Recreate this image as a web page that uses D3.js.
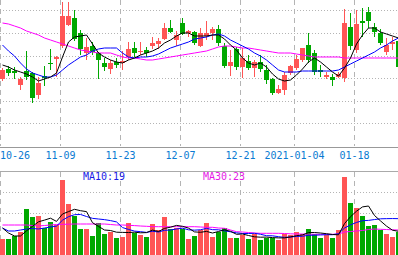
<!DOCTYPE html>
<html>
<head>
<meta charset="utf-8">
<script src="https://cdn.jsdelivr.net/npm/d3@7"></script>
<style>
html, body { margin: 0; padding: 0; background: #fff; overflow: hidden; }
</style>
</head>
<body>
<div id="chart"></div>
<script>
// trading days shown
const dates = [
  "2020-10-26","2020-10-27","2020-10-28","2020-10-29","2020-10-30",
  "2020-11-02","2020-11-03","2020-11-04","2020-11-05","2020-11-06",
  "2020-11-09","2020-11-10","2020-11-11","2020-11-12","2020-11-13",
  "2020-11-16","2020-11-17","2020-11-18","2020-11-19","2020-11-20",
  "2020-11-23","2020-11-24","2020-11-25","2020-11-26","2020-11-27",
  "2020-11-30","2020-12-01","2020-12-02","2020-12-03","2020-12-04",
  "2020-12-07","2020-12-08","2020-12-09","2020-12-10","2020-12-11",
  "2020-12-14","2020-12-15","2020-12-16","2020-12-17","2020-12-18",
  "2020-12-21","2020-12-22","2020-12-23","2020-12-24","2020-12-25",
  "2020-12-28","2020-12-29","2020-12-30","2020-12-31",
  "2021-01-04","2021-01-05","2021-01-06","2021-01-07","2021-01-08",
  "2021-01-11","2021-01-12","2021-01-13","2021-01-14","2021-01-15",
  "2021-01-18","2021-01-19","2021-01-20","2021-01-21","2021-01-22",
  "2021-01-25","2021-01-26","2021-01-27"
];

const open  = [3.44,3.64,3.60,3.32,3.60,3.56,3.12,3.50,3.76,3.84, 4.10,4.52,4.66,4.36,3.96,4.10,3.96,3.76,3.64,3.78,
               3.76,3.88,4.06,3.98,4.02,4.10,4.14,4.24,4.46,4.22, 4.56,4.36,4.38,4.10,4.30,4.36,4.44,4.10,3.70,4.04,
               3.68,3.80,3.66,3.78,3.62,3.44,3.16,3.22,3.56,3.66, 3.82,4.12,3.96,3.62,3.48,3.48,3.48,3.46,4.48,4.02,
               4.60,4.78,4.48,4.36,3.98,4.14,4.20];
const high  = [3.66,3.70,3.68,3.48,4.00,3.58,3.48,3.70,4.04,3.90, 4.98,4.98,4.82,4.42,4.26,4.18,3.98,3.86,3.82,3.86,
               4.00,4.18,4.18,4.18,4.08,4.28,4.26,4.56,4.62,4.40, 4.66,4.42,4.40,4.46,4.60,4.48,4.52,4.16,4.02,4.08,
               4.06,3.92,3.82,3.92,3.72,3.46,3.32,3.58,3.72,3.92, 4.06,4.36,4.02,3.72,3.58,3.54,3.58,4.84,4.76,4.82,
               4.86,4.88,4.56,4.44,4.26,4.28,4.26];
const low   = [3.40,3.50,3.44,3.22,3.42,2.96,3.04,3.30,3.62,3.48, 4.06,4.50,4.20,3.92,3.82,3.92,3.44,3.60,3.54,3.66,
               3.62,3.82,3.88,3.92,3.88,4.04,4.04,4.22,4.36,4.10, 4.32,4.28,4.12,4.08,4.22,4.22,4.10,3.66,3.50,3.62,
               3.46,3.62,3.48,3.58,3.34,3.12,3.14,3.12,3.52,3.62, 3.78,3.76,3.52,3.48,3.44,3.30,3.46,3.38,4.02,3.96,
               4.28,4.46,4.28,4.12,3.92,4.02,3.62];
const close = [3.62,3.56,3.56,3.44,3.48,3.06,3.36,3.46,3.74,3.88, 4.70,4.70,4.24,4.04,4.08,3.98,3.82,3.68,3.76,3.72,
               3.80,4.04,3.96,4.00,3.96,4.16,4.20,4.46,4.38,4.32, 4.34,4.40,4.16,4.36,4.36,4.44,4.16,3.70,3.78,3.68,
               3.86,3.66,3.78,3.64,3.42,3.16,3.24,3.52,3.70,3.84, 4.06,3.82,3.58,3.58,3.52,3.42,3.54,4.56,4.10,4.54,
               4.56,4.60,4.38,4.16,4.12,4.18,3.68];

const ma5  = [3.72,3.68,3.62,3.58,3.54,3.48,3.40,3.44,3.48,3.56, 3.88,4.18,4.28,4.30,4.32,4.14,3.96,3.88,3.82,3.78,
              3.76,3.82,3.86,3.92,3.96,4.00,4.06,4.16,4.22,4.30, 4.36,4.36,4.30,4.30,4.30,4.32,4.32,4.24,4.12,4.02,
              3.86,3.76,3.72,3.76,3.68,3.54,3.44,3.40,3.42,3.52, 3.64,3.78,3.86,3.78,3.68,3.58,3.50,3.66,3.86,4.14,
              4.32,4.46,4.46,4.38,4.34,4.30,4.26];
const ma10 = [4.12,4.00,3.90,3.76,3.64,3.56,3.52,3.48,3.48,3.52, 3.62,3.72,3.80,3.88,3.92,4.00,4.04,4.06,4.06,4.06,
              3.96,3.88,3.86,3.88,3.88,3.90,3.94,4.00,4.06,4.10, 4.14,4.18,4.24,4.26,4.28,4.32,4.34,4.30,4.22,4.16,
              4.10,4.04,3.96,3.90,3.82,3.72,3.62,3.58,3.58,3.58, 3.60,3.60,3.60,3.60,3.60,3.60,3.62,3.68,3.74,3.80,
              3.86,3.92,3.98,4.06,4.12,4.20,4.26];
const ma30 = [4.56,4.54,4.50,4.46,4.40,4.36,4.32,4.26,4.22,4.18, 4.14,4.10,4.06,4.02,4.00,3.98,3.96,3.96,3.96,3.92,
              3.88,3.86,3.86,3.84,3.82,3.82,3.84,3.86,3.88,3.90, 3.92,3.94,3.96,3.98,4.00,4.04,4.08,4.10,4.10,4.08,
              4.06,4.06,4.04,4.02,4.00,3.98,3.96,3.96,3.96,3.94, 3.92,3.90,3.88,3.88,3.88,3.88,3.88,3.86,3.86,3.86,
              3.86,3.86,3.86,3.86,3.86,3.86,3.86];

const volume = [32,32,38,47,93,76,78,55,66,61, 150,102,78,52,52,39,65,42,47,35,
                37,64,45,41,37,62,50,76,53,55, 53,32,38,49,64,37,47,55,34,34,
                40,32,42,30,35,35,29,42,40,47, 43,52,43,35,40,35,49,155,104,95,
                78,58,60,50,43,37,47];
const volMa5  = [54,44,38,38,48.4,57.2,66.4,69.8,73.6,67.2, 82,86.8,91.4,88.6,86.8,64.6,57.2,50,49,45.6,
                 45.2,45,45.6,44.4,44.8,49.8,47,53.2,55.6,59.2, 57.4,53.8,46.2,45.4,47.2,44,47,50.4,47.4,41.4,
                 42,39,36.4,35.6,35.8,34.8,34.2,34.2,36.2,38.6, 40.2,44.8,45,44,42.6,41,40.4,62.8,76.6,87.6,
                 96.2,98,79,68.2,57.8,49.6,47.4];
const volMa10 = [54,48,48,50,52,53,52,54,56,57.8, 69.6,76.6,80.6,81.1,77,73.3,72,70.7,68.8,66.2,
                 54.9,51.1,47.8,46.7,45.2,47.5,46,49.4,50,52, 53.6,50.4,49.7,50.5,53.2,50.7,50.4,48.3,46.4,44.3,
                 43,43,43.4,41.5,38.6,38.4,36.6,35.3,35.9,37.2, 37.5,39.5,39.6,40.1,40.6,40.6,42.6,53.9,60.3,65.1,
                 68.6,69.2,70.9,72.4,72.7,72.9,72.7];
const volMa30 = [60,60,60,60,60,59,58,59,60,61, 61.4,61.6,62,62,62,62,62,62,61,60,
                 60,59.4,58.8,58,57.4,56.8,56.6,56.6,56.6,56.6, 56.6,56.6,56.6,56,55.4,55.4,54,53.4,50,46.6,
                 46,45,44,43.4,43.4,43.4,43.4,43,42.4,42, 42,41.6,41.4,41.4,41.4,41.4,42,46,47,48,
                 49,51,52,51.4,51,50.4,50];

const tickDates  = ["2020-10-26","2020-11-09","2020-11-23","2020-12-07","2020-12-21","2021-01-04","2021-01-18"];
const tickLabels = ["10-26","11-09","11-23","12-07","12-21","2021-01-04","01-18"];
const priceGrid = [2.55, 3.00, 3.45, 3.90, 4.35, 4.80];
const volGrid = [84, 126];

const width = 398, height = 255;
const UP = '#ff5555', DOWN = '#00a800';
const GRID = '#b4b4b4';

const svg = d3.select('#chart').append('svg')
  .attr('width', width)
  .attr('height', height)
  .style('display', 'block');

const x = d3.scaleBand().domain(dates).range([0, dates.length * 6 - 1]).paddingInner(1 / 6);
const cx = d => x(d) + x.bandwidth() / 2;
const y = d3.scaleLinear().domain([2.10, 5.02]).range([146, 0]);
const yv = d3.scaleLinear().domain([0, 168]).range([255, 171]);

const candles = dates.map((d, i) => ({
  date: d, o: open[i], h: high[i], l: low[i], c: close[i], v: volume[i]
}));
const col = d => d.c >= d.o ? UP : DOWN;

// grid
const grid = svg.append('g');
grid.selectAll('.hp').data(priceGrid).join('line')
  .attr('x1', 0).attr('x2', width)
  .attr('y1', d => Math.floor(y(d)) + 0.5).attr('y2', d => Math.floor(y(d)) + 0.5)
  .attr('stroke', GRID).attr('stroke-dasharray', '1,2');
grid.selectAll('.hv').data(volGrid).join('line')
  .attr('x1', 0).attr('x2', width)
  .attr('y1', d => Math.floor(yv(d)) + 0.5).attr('y2', d => Math.floor(yv(d)) + 0.5)
  .attr('stroke', GRID).attr('stroke-dasharray', '1,2');
tickDates.forEach(d => {
  const gx = x(d) + 0.5;
  grid.append('line').attr('x1', gx).attr('x2', gx).attr('y1', 0).attr('y2', 146)
    .attr('stroke', GRID).attr('stroke-dasharray', '5,4');
  grid.append('line').attr('x1', gx).attr('x2', gx).attr('y1', 172).attr('y2', 255)
    .attr('stroke', GRID).attr('stroke-dasharray', '5,4');
});

// panel borders
svg.append('line').attr('x1', 0).attr('x2', width).attr('y1', 147.5).attr('y2', 147.5)
  .attr('stroke', '#999');
svg.append('line').attr('x1', 0).attr('x2', width).attr('y1', 171.5).attr('y2', 171.5)
  .attr('stroke', '#aaa');

// candles
const cg = svg.append('g').attr('shape-rendering', 'crispEdges');
cg.selectAll('line').data(candles).join('line')
  .attr('x1', d => cx(d.date)).attr('x2', d => cx(d.date))
  .attr('y1', d => y(d.h)).attr('y2', d => y(d.l))
  .attr('stroke', col);
cg.selectAll('rect').data(candles).join('rect')
  .attr('x', d => x(d.date))
  .attr('width', x.bandwidth())
  .attr('y', d => Math.round(y(Math.max(d.o, d.c))))
  .attr('height', d => Math.max(1, Math.round(Math.abs(y(d.o) - y(d.c)))))
  .attr('fill', col);

// volume bars
svg.append('g').attr('shape-rendering', 'crispEdges')
  .selectAll('rect').data(candles).join('rect')
  .attr('x', d => x(d.date))
  .attr('width', x.bandwidth())
  .attr('y', d => Math.round(yv(d.v)))
  .attr('height', d => 255 - Math.round(yv(d.v)))
  .attr('fill', col);

// moving averages
function maLine(values, scale, color) {
  const line = d3.line().x((v, i) => cx(dates[i])).y(v => scale(v));
  svg.append('path')
    .attr('d', line(values))
    .attr('fill', 'none')
    .attr('stroke', color)
    .attr('stroke-width', 1);
}
maLine(ma30, y, '#ff00ff');
maLine(ma10, y, '#0000ff');
maLine(ma5, y, '#000000');
maLine(volMa30, yv, '#ff00ff');
maLine(volMa10, yv, '#0000ff');
maLine(volMa5, yv, '#000000');

// date labels
const font = '"DejaVu Sans Mono", monospace';
svg.append('g').selectAll('text').data(tickDates).join('text')
  .attr('x', (d, i) => i === 0 ? 0 : x(d) + 0.5)
  .attr('y', 159)
  .attr('text-anchor', (d, i) => i === 0 ? 'start' : 'middle')
  .attr('font-family', font)
  .attr('font-size', 10)
  .attr('fill', '#0a7ad2')
  .text((d, i) => tickLabels[i]);

// legend of volume panel
svg.append('text').attr('x', 83).attr('y', 179.5)
  .attr('font-family', font).attr('font-size', 10).attr('fill', '#1a1ae6')
  .text('MA10:19');
svg.append('text').attr('x', 203).attr('y', 179.5)
  .attr('font-family', font).attr('font-size', 10).attr('fill', '#e61ae6')
  .text('MA30:23');
</script>
</body>
</html>
